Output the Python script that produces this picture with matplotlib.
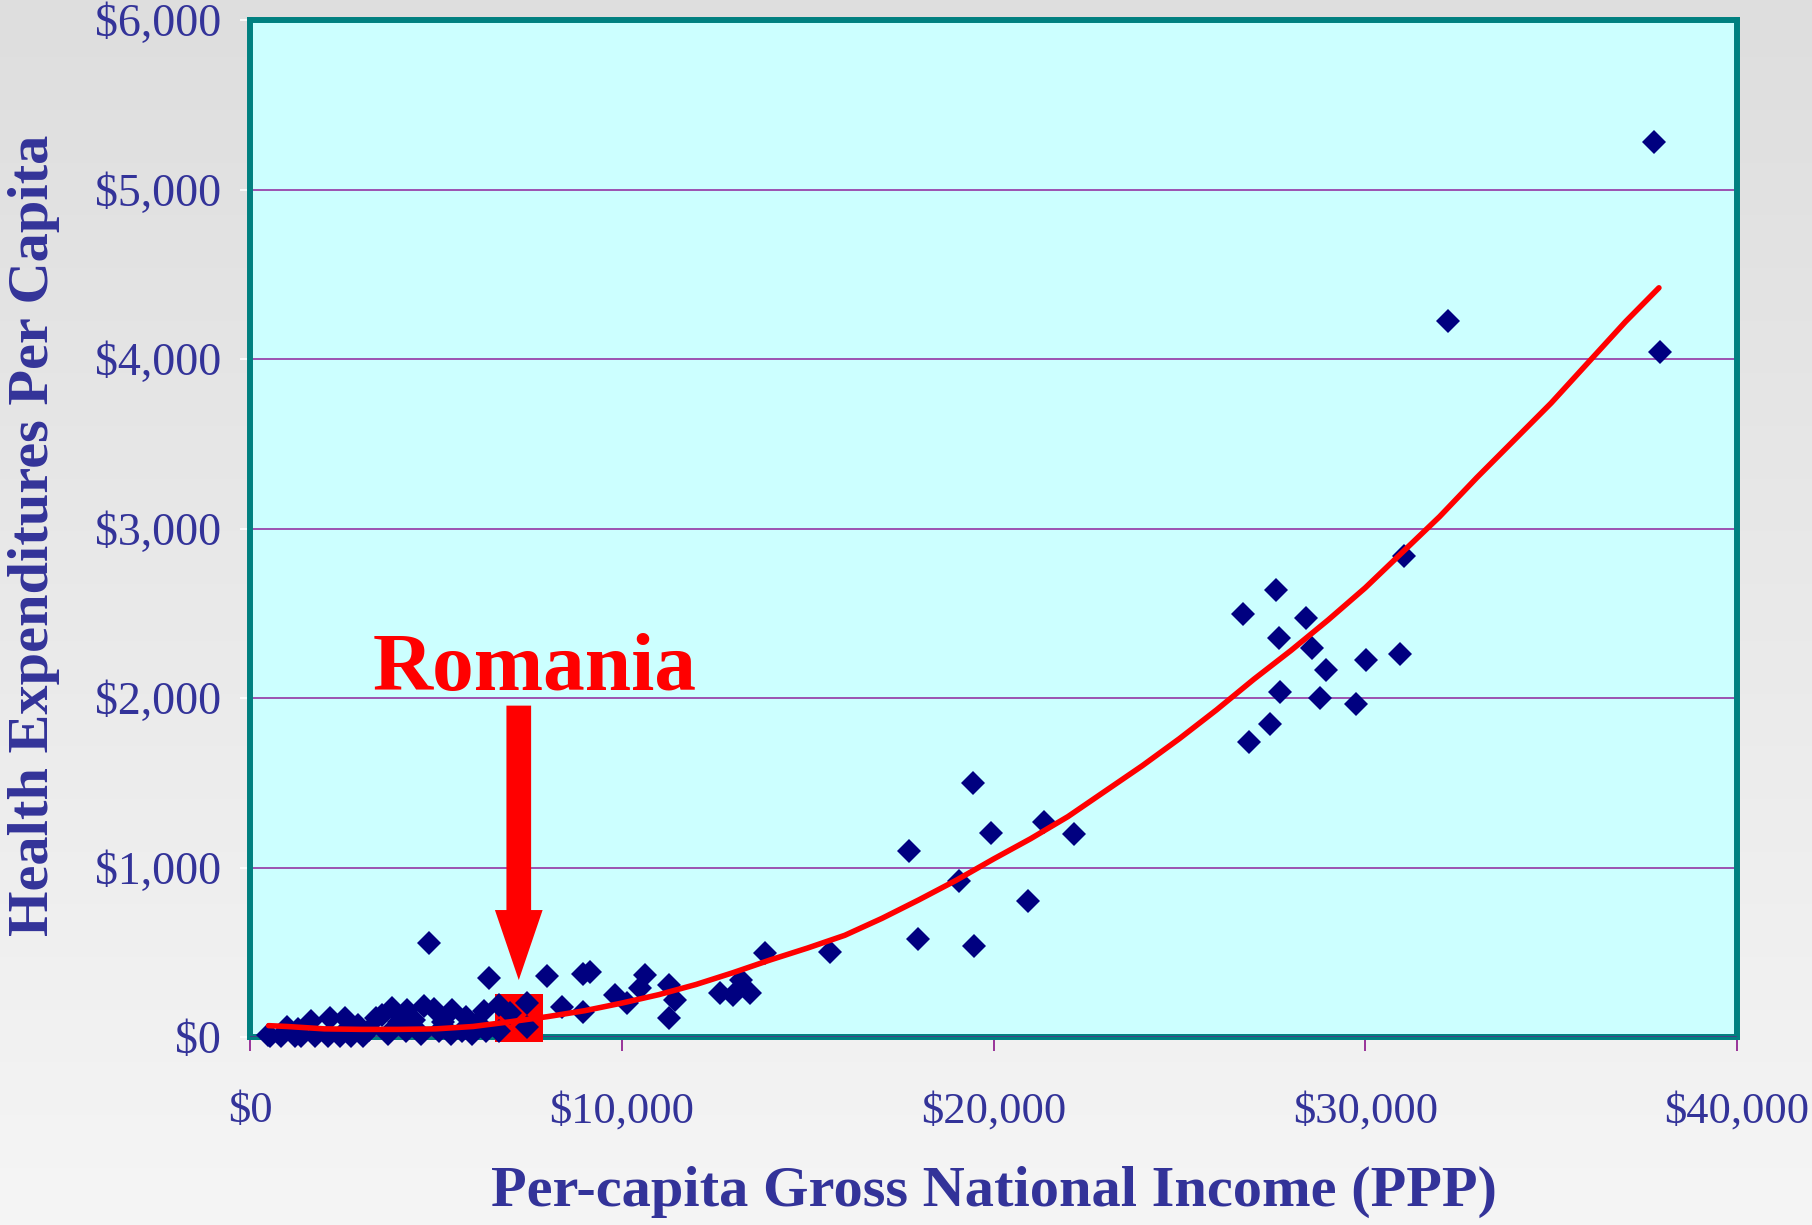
import numpy as np
import matplotlib
matplotlib.use('Agg')
import matplotlib.pyplot as plt
from matplotlib.patches import FancyArrow
from matplotlib.colors import LinearSegmentedColormap

# ---------------- data ----------------
gni = [490, 540, 840, 1000, 1210, 1300, 1380, 1640, 1740, 2100, 2150, 2410, 2560,
       2730, 2900, 3050, 3200, 3380, 3560, 3700, 3830, 4000, 4190, 4230, 4400, 4590,
       4680, 4820, 4950, 5090, 5200, 5400, 5440, 5710, 5800, 5980, 6100, 6300, 6340,
       6440, 6700, 6700, 7000, 7450, 7450, 7980, 8380, 8950, 8950, 9150, 9830, 10140,
       10500, 10630, 11260, 11260, 11440, 12650, 12980, 13200, 13450, 13860, 15600,
       17720, 17980, 19080, 19460, 19480, 19920, 20920, 21350, 22160, 26700, 26860,
       27440, 27600, 27670, 27710, 28410, 28580, 28790, 28950, 29760, 30020, 30940,
       31050, 32220, 37770, 37930]
health = [12, 7, 7, 60, 7, 47, 7, 96, 7, 7, 111, 7, 111,
          7, 70, 7, 40, 115, 131, 18, 174, 90, 35, 158, 100, 18,
          184, 555, 164, 35, 90, 18, 158, 35, 120, 18, 80, 155, 35,
          350, 189, 35, 140, 199, 61, 362, 179, 149, 372, 385, 248, 199,
          287, 366, 307, 110, 218, 258, 248, 336, 261, 494, 503,
          1096, 576, 919, 1498, 537, 1205, 804, 1267, 1199, 2496, 1742,
          1847, 2637, 2352, 2037, 2470, 2293, 2002, 2165, 1965, 2224, 2260,
          2840, 4227, 5278, 4040]

trend_gni = [500, 1000, 2000, 3000, 4000, 5000, 6000, 7000, 8000, 9000, 10000,
             11000, 12000, 13000, 14000, 15000, 16000, 17000, 18000, 19000, 20000,
             21000, 22000, 23000, 24000, 25000, 26000, 27000, 28000, 29000, 30000,
             31000, 32000, 33000, 34000, 35000, 36000, 37000, 37900]
trend_health = [67, 62, 48, 45, 45, 48, 62, 90, 120, 155, 200,
                250, 310, 380, 455, 525, 600, 700, 810, 925, 1050,
                1170, 1300, 1450, 1600, 1760, 1930, 2110, 2280, 2460, 2650,
                2860, 3070, 3300, 3520, 3740, 3980, 4220, 4420]

romania_gni = 7240
romania_health = 113

x_ticks = [0, 10000, 20000, 30000, 40000]
x_tick_labels = ['$0', '$10,000', '$20,000', '$30,000', '$40,000']
y_ticks = [0, 1000, 2000, 3000, 4000, 5000, 6000]
y_tick_labels = ['$0', '$1,000', '$2,000', '$3,000', '$4,000', '$5,000', '$6,000']

# ---------------- figure ----------------
SERIF = ['Liberation Serif', 'DejaVu Serif']
TXT = '#333399'
W, H = 1812, 1225

fig = plt.figure(figsize=(W / 100, H / 100), dpi=100)

bg = fig.add_axes([0, 0, 1, 1], zorder=0)
grad = np.linspace(0, 1, 256).reshape(-1, 1)
cmap = LinearSegmentedColormap.from_list('bg', ['#dedede', '#f5f5f5'])
bg.imshow(grad, aspect='auto', cmap=cmap, extent=[0, 1, 0, 1], origin='upper')
bg.axis('off')

L, R, T, B = 250, 1737, 20, 1037
ax = fig.add_axes([L / W, 1 - B / H, (R - L) / W, (B - T) / H], zorder=1)
ax.set_facecolor('#ccffff')
ax.set_xlim(0, 40000)
ax.set_ylim(0, 6000)

for s in ax.spines.values():
    s.set_color('#008080')
    s.set_linewidth(4.3)
    s.set_zorder(2.5)

ax.set_yticks(y_ticks)
ax.set_yticklabels(y_tick_labels)
ax.set_xticks(x_ticks)
ax.set_xticklabels(x_tick_labels)
ax.grid(axis='y', color='#9944aa', linewidth=1.3, zorder=1)
ax.set_axisbelow(True)

ax.tick_params(axis='x', direction='out', length=10, width=1.4, color='#993399',
               pad=29, labelsize=32, labelcolor=TXT)
ax.tick_params(axis='y', direction='out', length=7, width=1.2, color='white',
               pad=14, labelsize=33, labelcolor=TXT)
for lab in ax.get_xticklabels() + ax.get_yticklabels():
    lab.set_family(SERIF)

ax.axhline(0, color='#553388', linewidth=1.2, zorder=3)

# highlighted country marker
ax.plot([romania_gni], [romania_health], marker='s', markersize=34.3,
        color='#ff0000', markeredgewidth=0, linestyle='none', zorder=3.5, clip_on=False)

# scatter
ax.plot(gni, health, marker='D', markersize=12.7, color='#000080',
        markeredgewidth=0, linestyle='none', zorder=4, clip_on=False)

# trend line
ax.plot(trend_gni, trend_health, color='#ff0000', linewidth=4.0,
        solid_capstyle='round', solid_joinstyle='round', zorder=5)

# arrow + label
arrow = FancyArrow(romania_gni - 10, 1955, 0, 336 - 1955, width=664, head_width=1283,
                   head_length=413, length_includes_head=True, color='#ff0000',
                   linewidth=0, zorder=6)
ax.add_patch(arrow)
ax.text(3290, 2047, 'Romania', color='#ff0000', fontsize=60, fontweight='bold',
        family=SERIF, ha='left', va='baseline', zorder=7)

# axis titles
fig.text(34 / W, 1 - 535 / H, 'Health Expenditures Per Capita', rotation=90,
         ha='center', va='center', fontsize=42, fontweight='bold', color=TXT, family=SERIF)
fig.text(994 / W, 1 - 1192 / H, 'Per-capita Gross National Income (PPP)',
         ha='center', va='center', fontsize=42, fontweight='bold', color=TXT, family=SERIF)

fig.savefig('out.png', dpi=100)
